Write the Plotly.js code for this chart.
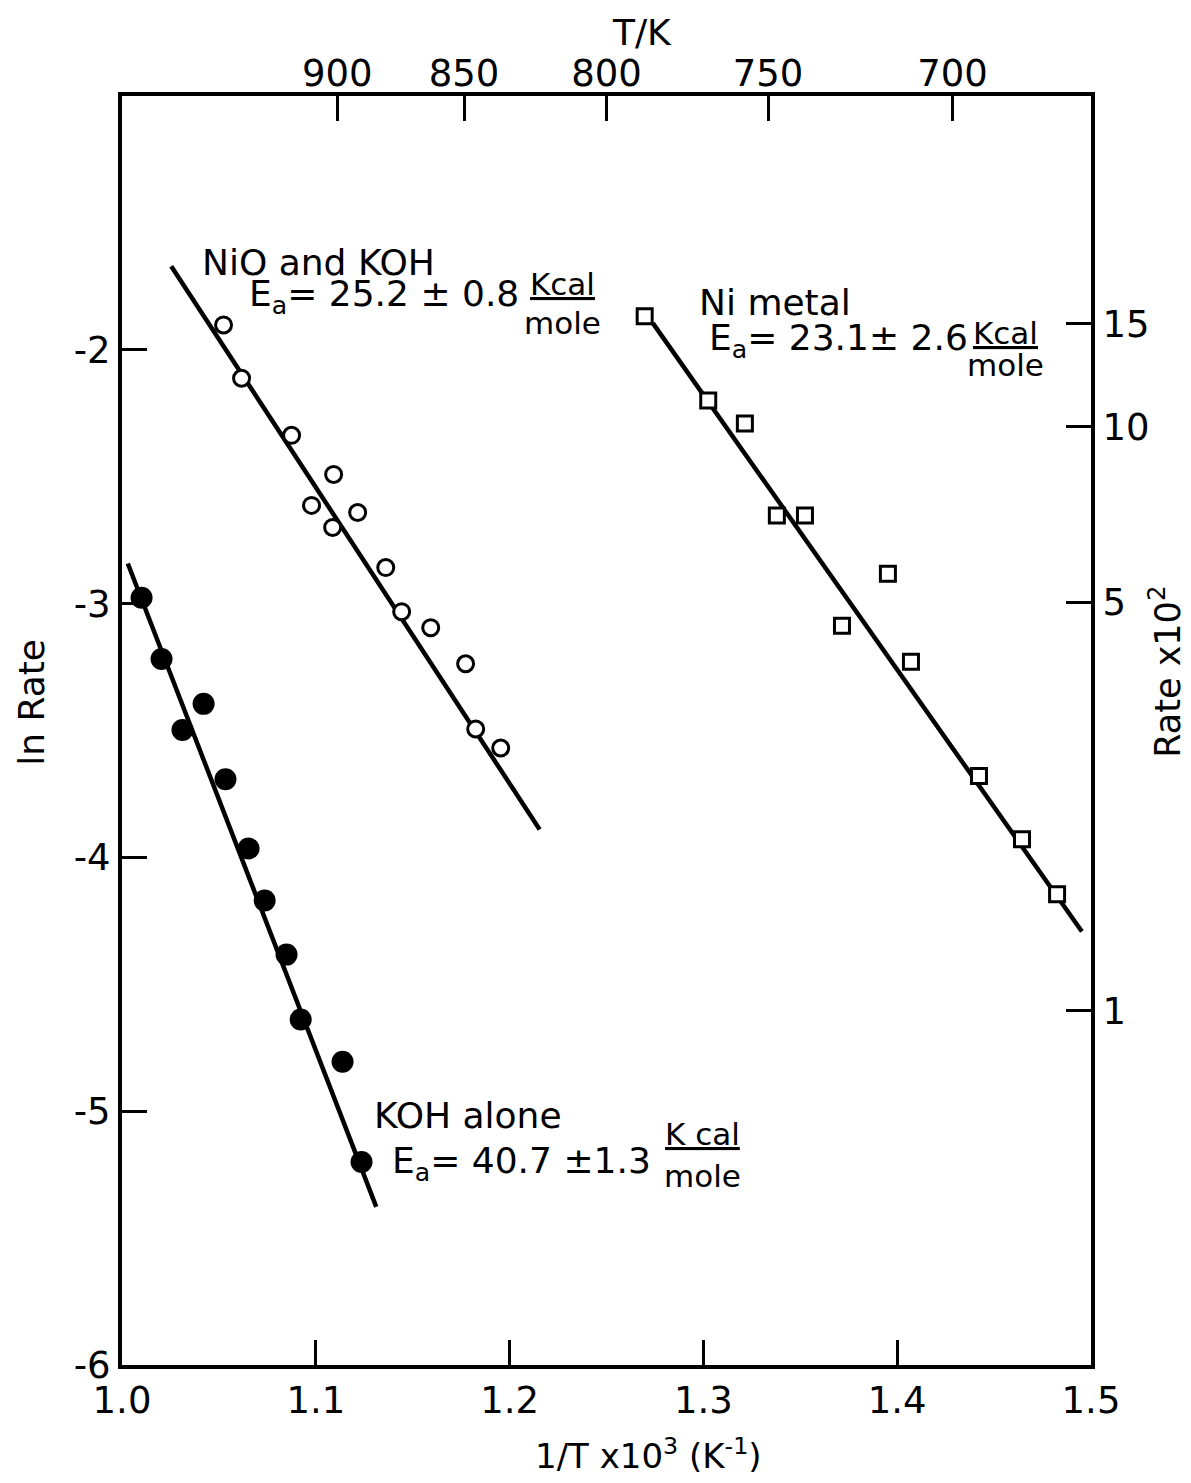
<!DOCTYPE html>
<html><head><meta charset="utf-8">
<script src="https://cdn.plot.ly/plotly-3.0.1.min.js"></script>
<style>html,body{margin:0;padding:0;background:#fff}</style>
</head><body>
<div id="chart" style="width:1191px;height:1483px"></div>
<script>
// KOH alone (filled circles): 1/T x 10^3, ln Rate
const kohX = [1.0101, 1.0204, 1.0312, 1.0421, 1.0534, 1.0653, 1.0736, 1.0849, 1.0922, 1.1138, 1.1236];
const kohY = [-2.977, -3.218, -3.498, -3.395, -3.692, -3.965, -4.170, -4.383, -4.639, -4.805, -5.200];
const kohLineX = [1.0030, 1.1312];
const kohLineY = [-2.842, -5.377];

// NiO and KOH (open circles)
const nioX = [1.0524, 1.0617, 1.0875, 1.1092, 1.0978, 1.1216, 1.1087, 1.1361, 1.1443, 1.1593, 1.1773, 1.1825, 1.1954];
const nioY = [-1.902, -2.112, -2.337, -2.491, -2.613, -2.641, -2.700, -2.858, -3.032, -3.095, -3.237, -3.494, -3.569];
const nioLineX = [1.0254, 1.2155];
const nioLineY = [-1.671, -3.890];

// Ni metal (open squares)
const niX = [1.2697, 1.3025, 1.3214, 1.3379, 1.3524, 1.3952, 1.3715, 1.4071, 1.4422, 1.4644, 1.4825];
const niY = [-1.868, -2.200, -2.290, -2.653, -2.653, -2.882, -3.087, -3.229, -3.679, -3.928, -4.145];
const niLineX = [1.2739, 1.4953];
const niLineY = [-1.895, -4.292];

// axes
const xTickVals = [1.0, 1.1, 1.2, 1.3, 1.4, 1.5];
const xTickText = ["1.0", "1.1", "1.2", "1.3", "1.4", "1.5"];
const yTickVals = [-6, -5, -4, -3, -2];
const yTickText = ["-6", "-5", "-4", "-3", "-2"];
const tempTicks = [900, 850, 800, 750, 700];          // T/K (top axis)
const rateTicks = [15, 10, 5, 1];                      // Rate x 10^2 (right axis)

// labels
const seriesNames = ["KOH alone", "NiO and KOH", "Ni metal"];
const eaTexts = ["E<sub>a</sub>= 40.7 ±1.3", "E<sub>a</sub>= 25.2 ± 0.8", "E<sub>a</sub>= 23.1± 2.6"];
const unitTop = ["K cal", "Kcal", "Kcal"];
const unitBottom = ["mole", "mole", "mole"];

const FONT = "DejaVu Sans, Liberation Sans, sans-serif";
const BLACK = "#000";

const traces = [
  {x: kohLineX, y: kohLineY, mode: "lines", line: {color: BLACK, width: 4.5}, hoverinfo: "skip"},
  {x: nioLineX, y: nioLineY, mode: "lines", line: {color: BLACK, width: 4.5}, hoverinfo: "skip"},
  {x: niLineX, y: niLineY, mode: "lines", line: {color: BLACK, width: 4.5}, hoverinfo: "skip"},
  {x: kohX, y: kohY, mode: "markers", name: seriesNames[0],
   marker: {symbol: "circle", size: 22, color: BLACK, line: {width: 0}}},
  {x: nioX, y: nioY, mode: "markers", name: seriesNames[1],
   marker: {symbol: "circle", size: 16, color: "#fff", line: {width: 3, color: BLACK}}},
  {x: niX, y: niY, mode: "markers", name: seriesNames[2],
   marker: {symbol: "square", size: 15, color: "#fff", line: {width: 3, color: BLACK}}},
  {x: [], y: [], xaxis: "x2", yaxis: "y2", mode: "markers", hoverinfo: "skip"}
];

const axisCommon = {
  showgrid: false, zeroline: false, showline: true, linecolor: BLACK, linewidth: 4,
  ticks: "inside", ticklen: 25, tickwidth: 3, tickcolor: BLACK,
  tickfont: {family: FONT, size: 37, color: BLACK}
};

const annFont = {family: FONT, size: 36, color: BLACK};
const fracFont = {family: FONT, size: 31, color: BLACK};
function ann(text, x, y, xanchor, font) {
  return {text: text, x: x, y: y, xref: "x", yref: "y", xanchor: xanchor, yanchor: "middle",
          showarrow: false, font: font || annFont};
}

const annotations = [
  // NiO and KOH block
  ann(seriesNames[1], 1.0400, -1.655, "left"),
  ann(eaTexts[1], 1.0643, -1.790, "left"),
  ann("<u>" + unitTop[1] + "</u>", 1.2275, -1.740, "center", fracFont),
  ann(unitBottom[1], 1.2275, -1.895, "center", fracFont),
  // Ni metal block
  ann(seriesNames[2], 1.2965, -1.815, "left"),
  ann(eaTexts[2], 1.3017, -1.962, "left"),
  ann("<u>" + unitTop[2] + "</u>", 1.4560, -1.932, "center", fracFont),
  ann(unitBottom[2], 1.4560, -2.061, "center", fracFont),
  // KOH alone block
  ann(seriesNames[0], 1.1288, -5.015, "left"),
  ann(eaTexts[0], 1.1381, -5.205, "left"),
  ann("<u>" + unitTop[0] + "</u>", 1.2995, -5.088, "center", fracFont),
  ann(unitBottom[0], 1.2995, -5.256, "center", fracFont),
  // axis titles
  {text: "ln Rate", xref: "paper", yref: "paper", x: -0.093, y: 0.5225, textangle: -90,
   showarrow: false, font: {family: FONT, size: 36, color: BLACK}, xanchor: "center", yanchor: "middle"},
  {text: "Rate x10<sup>2</sup>", xref: "paper", yref: "paper", x: 1.077, y: 0.546, textangle: -90,
   showarrow: false, font: {family: FONT, size: 35, color: BLACK}, xanchor: "center", yanchor: "middle"},
  {text: "T/K", xref: "paper", yref: "paper", x: 0.537, y: 1.05, yanchor: "middle",
   showarrow: false, font: {family: FONT, size: 36, color: BLACK}},
  {text: "1/T x10<sup>3</sup> (K<sup>-1</sup>)", xref: "paper", yref: "paper", x: 0.543, y: -0.07,
   yanchor: "middle", showarrow: false, font: {family: FONT, size: 34, color: BLACK}}
];

const layout = {
  width: 1191, height: 1483,
  margin: {l: 122, r: 100, t: 96, b: 118},
  paper_bgcolor: "#fff", plot_bgcolor: "#fff",
  showlegend: false,
  xaxis: Object.assign({}, axisCommon, {range: [1.0, 1.5], tickmode: "array",
    tickvals: xTickVals, ticktext: xTickText, side: "bottom"}),
  xaxis2: Object.assign({}, axisCommon, {range: [1.0, 1.5], overlaying: "x", side: "top",
    tickmode: "array", tickvals: tempTicks.map(t => 1000 / t), ticktext: tempTicks.map(String),
    ticklabelstandoff: -9}),
  yaxis: Object.assign({}, axisCommon, {range: [-6, -1], tickmode: "array",
    tickvals: yTickVals, ticktext: yTickText}),
  yaxis2: Object.assign({}, axisCommon, {range: [-6, -1], overlaying: "y", side: "right",
    tickmode: "array", tickvals: rateTicks.map(r => Math.log(r / 100)), ticktext: rateTicks.map(String)}),
  annotations: annotations
};

Plotly.newPlot("chart", traces, layout, {staticPlot: true, displayModeBar: false});
</script>
</body></html>
